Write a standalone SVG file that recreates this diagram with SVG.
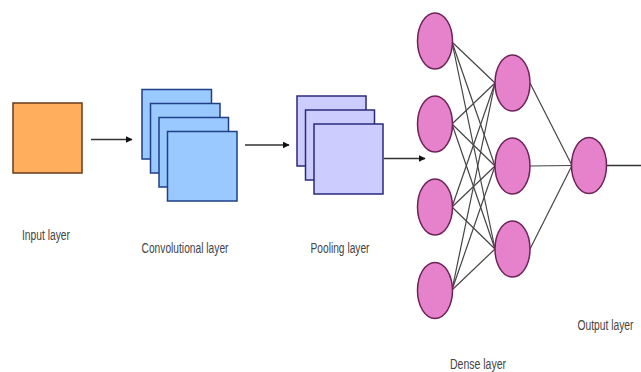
<svg xmlns="http://www.w3.org/2000/svg" width="641" height="372" viewBox="0 0 641 372">
  <defs>
    <marker id="arrow" viewBox="0 0 10 10" refX="9" refY="5" markerWidth="7" markerHeight="7" markerUnits="userSpaceOnUse" orient="auto">
      <path d="M0,0 L10,5 L0,10 z" fill="#111"/>
    </marker>
    <style>
      .input { fill: #FFAE5E; stroke: #6B3A1A; stroke-width: 1.5; }
      .conv { fill: #99C9FF; stroke: #1F3F86; stroke-width: 1.5; }
      .pool { fill: #CCCCFF; stroke: #2A2A7A; stroke-width: 1.5; }
      .neuron { fill: #E682CC; stroke: #6E2258; stroke-width: 1.5; }
      .edge { stroke: #444; stroke-width: 1.2; fill: none; }
      .flow { stroke: #333; stroke-width: 1.4; fill: none; }
      .label { font-family: "Liberation Sans", Arial, sans-serif; font-size: 14px; fill: #444; text-anchor: middle; }
    </style>
  </defs>
  <rect width="641" height="372" fill="#ffffff"/>

  <!-- connectors -->
  <g id="connectors">
    <line class="flow" x1="91" y1="139.5" x2="132" y2="139.5" marker-end="url(#arrow)"/>
    <line class="flow" x1="245" y1="145" x2="289" y2="145" marker-end="url(#arrow)"/>
    <line class="flow" x1="384" y1="158.5" x2="425" y2="158.5" marker-end="url(#arrow)"/>
    <!-- dense layer to hidden layer -->
    <g class="edge">
      <line x1="452" y1="42" x2="495" y2="83"/>
      <line x1="452" y1="42" x2="495" y2="166"/>
      <line x1="452" y1="42" x2="495" y2="249"/>
      <line x1="452" y1="124" x2="495" y2="83"/>
      <line x1="452" y1="124" x2="495" y2="166"/>
      <line x1="452" y1="124" x2="495" y2="249"/>
      <line x1="452" y1="207" x2="495" y2="83"/>
      <line x1="452" y1="207" x2="495" y2="166"/>
      <line x1="452" y1="207" x2="495" y2="249"/>
      <line x1="452" y1="290" x2="495" y2="83"/>
      <line x1="452" y1="290" x2="495" y2="166"/>
      <line x1="452" y1="290" x2="495" y2="249"/>
      <!-- hidden layer to output -->
      <line x1="530" y1="83" x2="572" y2="165.5"/>
      <line x1="530" y1="166" x2="572" y2="165.5"/>
      <line x1="530" y1="249" x2="572" y2="165.5"/>
    </g>
    <line class="flow" x1="607" y1="165.5" x2="641" y2="165.5"/>
  </g>

  <!-- input layer -->
  <g id="input-layer">
    <rect class="input" x="13" y="103" width="69" height="70"/>
    <text class="label" x="46" y="240" textLength="48" lengthAdjust="spacingAndGlyphs">Input layer</text>
  </g>

  <!-- convolutional layer: stacked feature maps -->
  <g id="conv-layer">
    <rect class="conv" x="142" y="89.5" width="69.5" height="69.5"/>
    <rect class="conv" x="150.5" y="103.5" width="69.5" height="69.5"/>
    <rect class="conv" x="159" y="117.5" width="69.5" height="69.5"/>
    <rect class="conv" x="167.5" y="131.5" width="69.5" height="69.5"/>
    <text class="label" x="185" y="253" textLength="87" lengthAdjust="spacingAndGlyphs">Convolutional layer</text>
  </g>

  <!-- pooling layer -->
  <g id="pool-layer">
    <rect class="pool" x="297" y="96" width="69" height="70"/>
    <rect class="pool" x="305.5" y="110" width="69" height="70"/>
    <rect class="pool" x="314" y="124" width="69" height="70"/>
    <text class="label" x="340" y="253" textLength="59" lengthAdjust="spacingAndGlyphs">Pooling layer</text>
  </g>

  <!-- dense layer -->
  <g id="dense-layer">
    <ellipse class="neuron" cx="435" cy="41" rx="17.5" ry="28"/>
    <ellipse class="neuron" cx="435" cy="124" rx="17.5" ry="28"/>
    <ellipse class="neuron" cx="435" cy="207" rx="17.5" ry="28"/>
    <ellipse class="neuron" cx="435" cy="290.5" rx="17.5" ry="28"/>
    <text class="label" x="478" y="369" textLength="56" lengthAdjust="spacingAndGlyphs">Dense layer</text>
  </g>

  <!-- hidden neurons -->
  <g id="hidden-layer">
    <ellipse class="neuron" cx="512.5" cy="83" rx="17.5" ry="28"/>
    <ellipse class="neuron" cx="512.5" cy="166" rx="17.5" ry="28"/>
    <ellipse class="neuron" cx="512.5" cy="249" rx="17.5" ry="28"/>
  </g>

  <!-- output layer -->
  <g id="output-layer">
    <ellipse class="neuron" cx="589" cy="165.5" rx="17.5" ry="28"/>
    <text class="label" x="605.5" y="329.5" textLength="56" lengthAdjust="spacingAndGlyphs">Output layer</text>
  </g>
</svg>
